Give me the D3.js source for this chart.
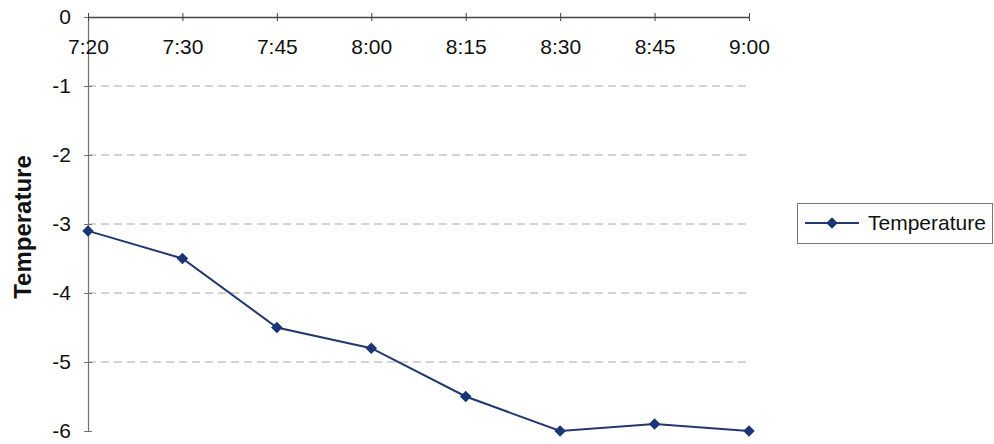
<!DOCTYPE html>
<html>
<head>
<meta charset="utf-8">
<script src="https://cdn.jsdelivr.net/npm/d3@7"></script>
<style>
  html, body { margin: 0; padding: 0; background: #fff; }
  svg { display: block; font-family: "Liberation Sans", Arial, sans-serif; }
</style>
</head>
<body>
<svg id="chart" width="994" height="444"></svg>
<script>
// Temperature readings over the morning
const times = ["7:20", "7:30", "7:45", "8:00", "8:15", "8:30", "8:45", "9:00"];
const temperature = [-3.1, -3.5, -4.5, -4.8, -5.5, -6.0, -5.9, -6.0];
const yTicks = [0, -1, -2, -3, -4, -5, -6];
const seriesName = "Temperature";

const svg = d3.select("#chart");
const plotLeft = 88, plotRight = 749, plotTop = 17, plotBottom = 431;
const lineColor = "#22386f";
const markerColor = "#1a3677";
const labelFont = "Liberation Sans, Arial, sans-serif";

const x = d3.scalePoint().domain(times).range([plotLeft, plotRight]).padding(0);
const y = d3.scaleLinear().domain([0, -6]).range([plotTop, plotBottom]);

// dashed horizontal gridlines
svg.append("g")
  .selectAll("line")
  .data(yTicks.filter(d => d !== 0 && d !== -6))
  .join("line")
  .attr("x1", plotLeft).attr("x2", plotRight)
  .attr("y1", d => y(d)).attr("y2", d => y(d))
  .attr("stroke", "#a8a8a8")
  .attr("stroke-width", 1)
  .attr("stroke-dasharray", "8,5");

// y axis, ticks crossing the axis line
const yAxis = svg.append("g")
  .attr("transform", `translate(${plotLeft},0)`)
  .call(d3.axisLeft(y).tickValues(yTicks).tickFormat(d => String(d)).tickSize(4).tickPadding(13));
yAxis.select(".domain").attr("stroke", "#707070").attr("stroke-width", 1.2);
yAxis.selectAll(".tick line").attr("x1", 4).attr("x2", -4).attr("stroke", "#707070");
yAxis.selectAll(".tick text")
  .attr("font-size", 21)
  .attr("fill", "#111")
  .attr("font-family", labelFont);

// x axis along the zero line, labels below it
const xAxis = svg.append("g")
  .attr("transform", `translate(0,${y(0)})`)
  .call(d3.axisBottom(x).tickSizeInner(0).tickSizeOuter(0).tickPadding(22));
xAxis.select(".domain").attr("stroke", "#444").attr("stroke-width", 1.4);
xAxis.selectAll(".tick line")
  .attr("y1", -4).attr("y2", 4)
  .attr("stroke", "#444");
xAxis.selectAll(".tick text")
  .attr("font-size", 21)
  .attr("fill", "#111")
  .attr("font-family", labelFont);

// y axis title
svg.append("text")
  .attr("transform", `translate(31,227) rotate(-90)`)
  .attr("text-anchor", "middle")
  .attr("font-size", 24)
  .attr("font-weight", "bold")
  .attr("fill", "#111")
  .text(seriesName);

// series line
const line = d3.line().x((d, i) => x(times[i])).y(d => y(d));
svg.append("path")
  .datum(temperature)
  .attr("d", line)
  .attr("fill", "none")
  .attr("stroke", lineColor)
  .attr("stroke-width", 2);

// diamond markers
const diamond = d3.symbol().type(d3.symbolDiamond2).size(85);
svg.append("g")
  .selectAll("path")
  .data(temperature)
  .join("path")
  .attr("transform", (d, i) => `translate(${x(times[i])},${y(d)})`)
  .attr("d", diamond)
  .attr("fill", markerColor);

// legend
const legend = svg.append("g").attr("transform", "translate(797,203)");
legend.append("rect")
  .attr("x", 0.5).attr("y", 0.5)
  .attr("width", 195).attr("height", 40)
  .attr("fill", "#fff")
  .attr("stroke", "#777");
legend.append("line")
  .attr("x1", 8).attr("x2", 62)
  .attr("y1", 20).attr("y2", 20)
  .attr("stroke", lineColor).attr("stroke-width", 2);
legend.append("path")
  .attr("transform", "translate(35,20)")
  .attr("d", diamond)
  .attr("fill", markerColor);
legend.append("text")
  .attr("x", 71).attr("y", 26.5)
  .attr("font-size", 21)
  .attr("fill", "#111")
  .attr("font-family", labelFont)
  .text(seriesName);
</script>
</body>
</html>
